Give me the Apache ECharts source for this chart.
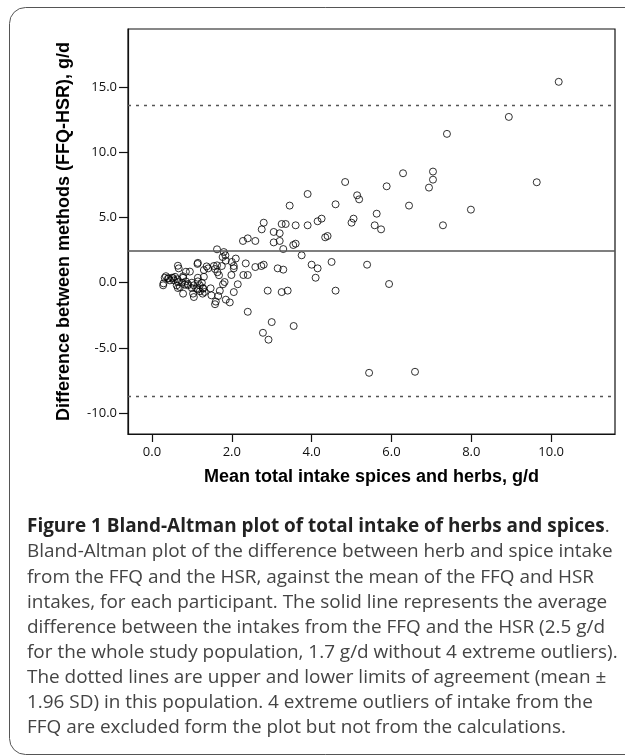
<!DOCTYPE html>
<html>
<head>
<meta charset="utf-8">
<script src="https://cdn.jsdelivr.net/npm/echarts@6/dist/echarts.min.js"></script>
<style>
  html, body { margin: 0; padding: 0; background: #fff; }
  #chart { width: 625px; height: 756px; }
</style>
</head>
<body>
<div id="chart"></div>
<script>
// ---- data ----
var xTicks = [0, 2, 4, 6, 8, 10];
var yTicks = [-10, -5, 0, 5, 10, 15];
var meanDiff = 2.45;
var limitsOfAgreement = [13.57, -8.74];

var pointsHigh = [
  [10.19,15.40],[8.94,12.71],[7.39,11.41],[9.64,7.70],[6.29,8.39],[7.04,8.52],[7.04,7.90],[6.94,7.29],
  [5.88,7.39],[4.84,7.72],[5.14,6.70],[5.19,6.39],[3.90,6.80],[4.60,6.01],[6.44,5.91],[7.99,5.60],
  [3.45,5.91],[5.63,5.29],[5.05,4.91],[5.00,4.60],[5.58,4.40],[5.74,4.09],[7.29,4.40],[4.25,4.91],
  [4.15,4.71],[4.40,3.58],[4.34,3.48],[3.90,4.40],[3.60,4.40],[3.35,4.50],[3.25,4.50],[3.20,3.79],
  [3.05,3.89],[2.80,4.60],[2.75,4.09],[3.20,3.20],[3.05,3.09],[3.60,2.99],[3.54,2.89],[3.29,2.58],
  [2.59,3.20],[2.40,3.40],[2.28,3.20],[3.75,2.10],[4.00,1.38],[4.15,1.10],[4.10,0.38],[4.50,1.59],
  [5.39,1.38],[5.94,-0.10],[4.60,-0.61],[3.40,-0.61],[3.25,-0.72],[2.90,-0.61],[3.15,1.10],[3.29,1.00],
  [2.80,1.38],[2.74,1.28],[2.59,1.20],[2.40,0.59],[2.29,0.59],[2.35,1.48],[2.15,-0.12],[2.05,-0.72],
  [2.40,-2.23],[3.00,-3.02],[3.55,-3.32],[2.78,-3.84],[2.92,-4.37],[5.44,-6.91],[6.59,-6.83]
];
var pointsMid = [
  [1.63,2.56],[1.80,2.35],[1.84,2.10],[1.77,1.97],[2.10,1.85],[1.85,1.69],[2.00,1.59],[2.05,1.28],
  [2.05,1.10],[1.99,0.59],[1.82,0.05],[1.78,-0.12],[1.85,-1.30],[1.95,-1.51],[1.60,-1.45],[1.58,-1.65],
  [1.66,-1.02],[1.49,-0.97],[1.47,-0.43],[1.70,-0.62],[1.64,0.80],[1.68,0.57],[1.58,1.05],[1.63,1.33],
  [1.75,1.28],[1.55,1.28],[1.37,1.25],[1.41,1.10],[1.30,0.97],[1.30,0.45],[1.15,1.52],[1.14,1.44],
  [1.28,-0.41],[1.27,-0.84],[1.15,-0.51],[1.05,-1.10],[1.00,-0.41],[1.15,0.38],[0.95,0.85],[0.85,0.84],
  [0.65,1.30],[0.67,1.10],[0.78,0.38],[0.78,-0.84],[0.65,-0.41],[0.62,-0.20],[0.75,0.00]
];
var pointsLow = [
  [0.28,-0.20],[0.29,-0.05],[0.32,0.38],[0.35,0.50],[0.42,0.35],[0.45,0.18],[0.50,0.38],[0.55,0.18],
  [0.58,0.45],[0.65,0.05],[0.78,0.49],[0.85,0.10],[0.90,-0.10],[1.00,0.00],[1.05,-0.20],[1.15,0.10],
  [1.20,-0.20],[1.25,0.00],[0.70,-0.33],[0.82,-0.15],[0.90,-0.20],[1.03,-0.84],[1.11,-0.46],[1.20,-0.66],
  [1.32,-0.71],[1.28,-0.46],[0.40,0.31],[0.53,0.36],[0.64,0.26]
];

var xTitle = 'Mean total intake spices and herbs, g/d';
var yTitle = 'Difference between methods (FFQ-HSR), g/d';
var captionBold = 'Figure 1 Bland-Altman plot of total intake of herbs and spices';
var captionLines = [
  'Bland-Altman plot of the difference between herb and spice intake',
  'from the FFQ and the HSR, against the mean of the FFQ and HSR',
  'intakes, for each participant. The solid line represents the average',
  'difference between the intakes from the FFQ and the HSR (2.5 g/d',
  'for the whole study population, 1.7 g/d without 4 extreme outliers).',
  'The dotted lines are upper and lower limits of agreement (mean \u00b1',
  '1.96 SD) in this population. 4 extreme outliers of intake from the',
  'FFQ are excluded form the plot but not from the calculations.'
];

// ---- fit caption font size to the reference line width ----
var capFont = '"Open Sans", sans-serif';
var mc = document.createElement('canvas').getContext('2d');
mc.font = '100px ' + capFont;
var capSize = 100 * 586 / mc.measureText(captionLines[0]).width;

var allPoints = pointsHigh.concat(pointsMid, pointsLow);

var capX = 27, capY0 = 527, capStep = 25.1;
var graphics = [{
  type: 'rect', silent: true, z: 0,
  shape: { x: 9.5, y: 7.5, width: 700, height: 747, r: 16 },
  style: { fill: 'none', stroke: '#555', lineWidth: 1 }
}, {
  type: 'text', x: capX, y: capY0, silent: true,
  style: {
    text: '{b|' + captionBold + '}{n|.}',
    verticalAlign: 'middle',
    rich: {
      b: { fontFamily: capFont, fontWeight: 'bold', fontSize: capSize, fill: '#222' },
      n: { fontFamily: capFont, fontSize: capSize, fill: '#444' }
    }
  }
}];
captionLines.forEach(function (t, i) {
  graphics.push({
    type: 'text', x: capX, y: capY0 + capStep * (i + 1), silent: true,
    style: { text: t, fontFamily: capFont, fontSize: capSize, fill: '#444', verticalAlign: 'middle' }
  });
});

var chart = echarts.init(document.getElementById('chart'), null, { renderer: 'canvas' });
var tickLabelStyle = { fontFamily: '"Open Sans", sans-serif', fontSize: 13, color: '#111' };
var titleStyle = { fontFamily: '"Liberation Sans", Arial, sans-serif', fontWeight: 'bold', fontSize: 18, color: '#000' };
chart.setOption({
  animation: false,
  backgroundColor: '#fff',
  grid: { left: 128, top: 29, width: 487, height: 405, show: true, borderColor: '#111', borderWidth: 1.2, backgroundColor: 'transparent' },
  xAxis: {
    type: 'value', min: -0.6, max: 11.6,
    name: xTitle, nameLocation: 'middle', nameGap: 34,
    nameTextStyle: titleStyle,
    axisLine: { show: true, onZero: false, lineStyle: { color: '#111', width: 1.2 } },
    axisTick: { show: true, length: 8, customValues: xTicks, lineStyle: { color: '#111', width: 1.2 } },
    axisLabel: Object.assign({ margin: 12, customValues: xTicks, formatter: function (v) { return v.toFixed(1); } }, tickLabelStyle),
    splitLine: { show: false }
  },
  yAxis: {
    type: 'value', min: -11.6, max: 19.45,
    name: yTitle, nameLocation: 'middle', nameGap: 55, nameRotate: 90,
    nameTextStyle: titleStyle,
    axisLine: { show: true, onZero: false, lineStyle: { color: '#111', width: 1.2 } },
    axisTick: { show: true, length: 9, customValues: yTicks, lineStyle: { color: '#111', width: 1.2 } },
    axisLabel: Object.assign({ margin: 11, customValues: yTicks, formatter: function (v) { return v.toFixed(1); } }, tickLabelStyle),
    splitLine: { show: false }
  },
  series: [{
    type: 'scatter',
    data: allPoints,
    symbol: 'circle',
    symbolSize: 7,
    itemStyle: { color: 'rgba(0,0,0,0)', borderColor: '#000', borderWidth: 1 },
    markLine: {
      silent: true, symbol: 'none', label: { show: false }, animation: false,
      data: [
        { yAxis: meanDiff, lineStyle: { type: 'solid', color: '#555', width: 1.5 } },
        { yAxis: limitsOfAgreement[0], lineStyle: { type: [3, 5], color: '#555', width: 1.3 } },
        { yAxis: limitsOfAgreement[1], lineStyle: { type: [3, 5], color: '#555', width: 1.3 } }
      ]
    }
  }],
  graphic: graphics
});
</script>
</body>
</html>
